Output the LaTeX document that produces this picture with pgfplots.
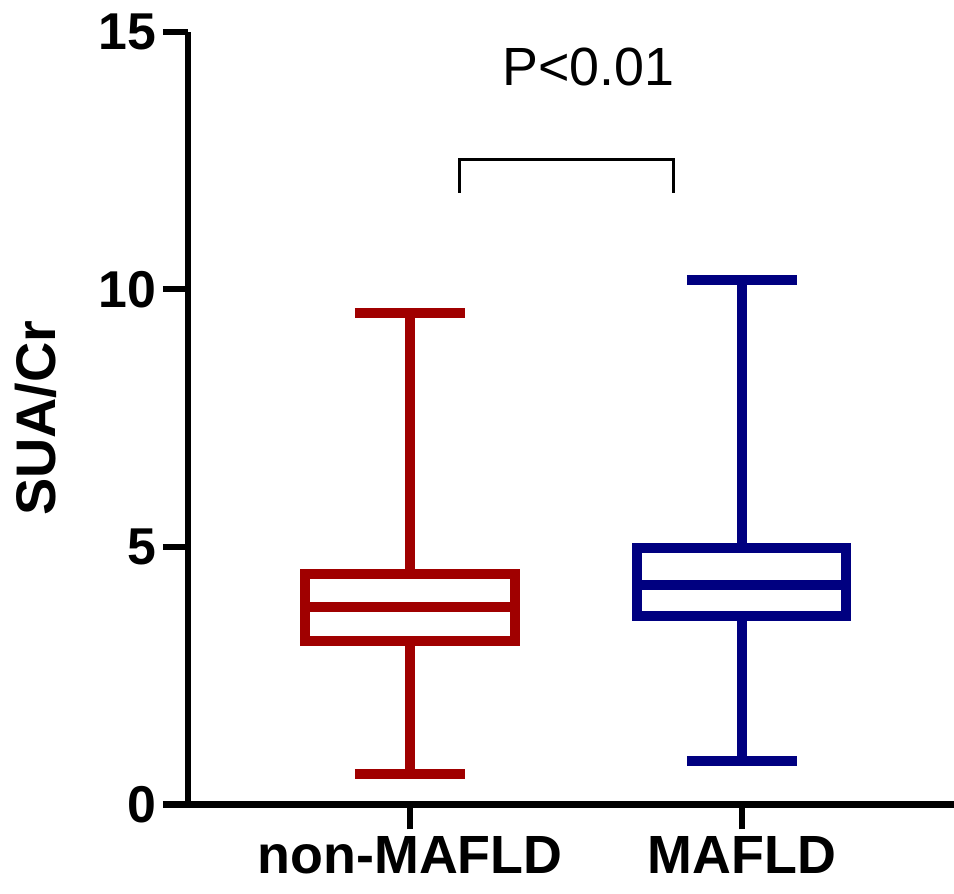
\documentclass[border=0pt]{standalone}
\usepackage{fontspec}
\setmainfont{Liberation Sans}
\usepackage{pgfplots}
\pgfplotsset{compat=1.18}
\usepgfplotslibrary{statistics}
\usetikzlibrary{calc}
\definecolor{boxRed}{RGB}{160,0,0}
\definecolor{boxBlue}{RGB}{0,0,128}

\begin{document}
\begin{tikzpicture}
\begin{axis}[
  scale only axis, width=383bp, height=386.25bp,
  xmin=0.331, xmax=2.639, ymin=0, ymax=15,
  axis x line=bottom, axis y line=left,
  axis line style={-, line width=3bp},
  every tick/.style={black, line width=3bp},
  tick align=outside,
  major tick length=12.5bp,
  boxplot/draw direction=y,
  xtick={1,2}, xticklabels={non-MAFLD, MAFLD},
  ytick={0,5,10,15},
  /pgf/number format/assume math mode=true,
  yticklabel style={font=\bfseries\fontsize{26}{26}\selectfont},
  xticklabel style={font=\bfseries\fontsize{27}{27}\selectfont},
  ylabel={\textbf{SUA/Cr}},
  ylabel style={font=\fontsize{28}{28}\selectfont, xshift=0bp, yshift=14bp},
  clip=false,
]
\addplot[draw=boxRed, line width=5bp, boxplot prepared={
    lower whisker=0.59, lower quartile=3.17, median=3.83,
    upper quartile=4.48, upper whisker=9.54,
    draw position=1, box extend=0.63, whisker extend=0.332}]
  coordinates {};
\addplot[draw=boxBlue, line width=5bp, boxplot prepared={
    lower whisker=0.85, lower quartile=3.66, median=4.26,
    upper quartile=4.99, upper whisker=10.19,
    draw position=2, box extend=0.63, whisker extend=0.332}]
  coordinates {};
\draw[line width=1.5bp] (axis cs:1.148,11.88) -- (axis cs:1.148,12.52)
  -- (axis cs:1.795,12.52) -- (axis cs:1.795,11.88);
\node[anchor=base west, inner sep=0pt, font=\fontsize{27}{27}\selectfont]
  at (axis cs:1.278,13.96) {P<0.01};
\coordinate (o) at (rel axis cs:0,0);
\coordinate (t) at (rel axis cs:1,1);
\end{axis}
\pgfresetboundingbox
\path[use as bounding box] ($(o)+(-94bp,-44.75bp)$) rectangle ($(t)+(0,16bp)$);
\end{tikzpicture}
\end{document}
